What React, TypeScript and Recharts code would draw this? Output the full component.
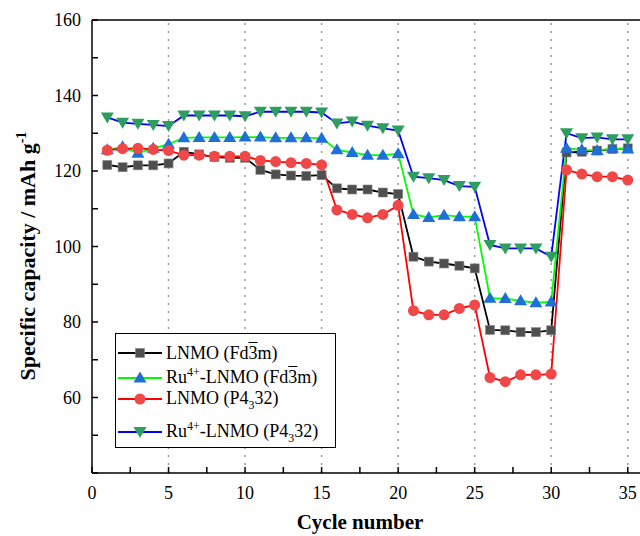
import React from "react"
import { LineChart, Line, XAxis, YAxis, ReferenceLine } from "recharts"

const cycles = [1, 2, 3, 4, 5, 6, 7, 8, 9, 10, 11, 12, 13, 14, 15, 16, 17, 18, 19, 20, 21, 22, 23, 24, 25, 26, 27, 28, 29, 30, 31, 32, 33, 34, 35]

// LNMO (Fd-3m), squares
const lnmoFd = [121.6, 121.0, 121.5, 121.5, 122.0, 125.1, 124.4, 123.7, 123.5, 123.5, 120.3, 119.1, 118.8, 118.7, 118.9, 115.4, 115.1, 115.1, 114.3, 113.9, 97.3, 96.0, 95.5, 94.9, 94.2, 77.9, 77.8, 77.3, 77.3, 77.8, 124.9, 125.1, 125.4, 125.8, 126.0]
// Ru4+-LNMO (Fd-3m), up triangles
const ruFd = [125.6, 126.4, 124.7, 126.0, 127.1, 128.8, 128.9, 128.9, 128.9, 129.0, 129.0, 128.8, 128.8, 128.8, 128.7, 125.6, 124.9, 124.2, 124.2, 124.6, 108.5, 107.7, 108.3, 107.9, 107.9, 86.3, 86.2, 85.6, 85.1, 85.3, 126.0, 125.6, 125.4, 126.0, 125.8]
// LNMO (P4332), circles
const lnmoP = [125.5, 125.9, 126.0, 125.7, 125.4, 124.2, 124.2, 123.9, 123.9, 123.9, 122.8, 122.5, 122.2, 122.0, 121.6, 109.7, 108.5, 107.6, 108.5, 110.9, 83.0, 81.9, 81.9, 83.6, 84.5, 65.3, 64.2, 66.0, 66.0, 66.2, 120.3, 119.2, 118.5, 118.5, 117.6]
// Ru4+-LNMO (P4332), down triangles
const ruP = [134.2, 132.8, 132.5, 132.2, 131.9, 134.7, 134.7, 134.7, 134.7, 134.5, 135.7, 135.7, 135.7, 135.7, 135.5, 132.6, 133.1, 132.0, 131.3, 130.7, 118.5, 118.1, 117.6, 116.0, 115.8, 100.4, 99.5, 99.5, 99.5, 97.3, 130.0, 128.7, 128.9, 128.4, 128.4]

const xTicks = [0, 2.5, 5, 7.5, 10, 12.5, 15, 17.5, 20, 22.5, 25, 27.5, 30, 32.5, 35]
const xLabels = [0, 5, 10, 15, 20, 25, 30, 35]
const yTicks = [40, 50, 60, 70, 80, 90, 100, 110, 120, 130, 140, 150, 160]
const yLabels = [60, 80, 100, 120, 140, 160]
const rateSteps = [5, 10, 15, 20, 25, 30, 35]

const data = cycles.map((c, i) => ({
  cycle: c,
  lnmoFd: lnmoFd[i],
  ruFd: ruFd[i],
  lnmoP: lnmoP[i],
  ruP: ruP[i],
}))

const FONT = "'Liberation Serif', 'Times New Roman', Times, 'DejaVu Serif', serif"

function Marker({ cx, cy, shape, fill }: { cx: number; cy: number; shape: string; fill: string }) {
  if (cx == null || cy == null) return null
  if (shape === "square") return <rect x={cx - 4.5} y={cy - 4.5} width={9} height={9} fill={fill} stroke="#888" strokeWidth={0.6} />
  if (shape === "circle") return <circle cx={cx} cy={cy} r={5.5} fill={fill} />
  if (shape === "up") return <polygon points={`${cx},${cy - 6.5} ${cx + 6.5},${cy + 4.5} ${cx - 6.5},${cy + 4.5}`} fill={fill} />
  return <polygon points={`${cx - 6.5},${cy - 5} ${cx + 6.5},${cy - 5} ${cx},${cy + 6}`} fill={fill} />
}

const series = [
  { key: "lnmoFd", stroke: "#000000", fill: "#4f4f4f", shape: "square" },
  { key: "ruFd", stroke: "#00ff00", fill: "#1f6fd8", shape: "up" },
  { key: "lnmoP", stroke: "#ff0000", fill: "#f04848", shape: "circle" },
  { key: "ruP", stroke: "#0000ff", fill: "#2e9e60", shape: "down" },
]

const XTick = (props: any) => {
  const { x, y, payload } = props
  const v = payload.value
  return (
    <g>
      <line x1={x} y1={y} x2={x} y2={y - 6} stroke="#000" strokeWidth={1.5} />
      {xLabels.includes(v) && (
        <text x={x} y={y + 26} textAnchor="middle" style={{ fontFamily: FONT }} fontSize={18} fill="#000">
          {v}
        </text>
      )}
    </g>
  )
}

const YTick = (props: any) => {
  const { x, y, payload } = props
  const v = payload.value
  return (
    <g>
      <line x1={x} y1={y} x2={x + 6} y2={y} stroke="#000" strokeWidth={1.5} />
      {yLabels.includes(v) && (
        <text x={x - 11} y={y + 6} textAnchor="end" style={{ fontFamily: FONT }} fontSize={18} fill="#000">
          {v}
        </text>
      )}
    </g>
  )
}

const XTitle = () => (
  <text x={360} y={529} textAnchor="middle" style={{ fontFamily: FONT }} fontSize={21} fontWeight="bold" fill="#000">
    Cycle number
  </text>
)

const YTitle = () => (
  <text x={35} y={256} transform="rotate(-90, 35, 256)" textAnchor="middle" style={{ fontFamily: FONT }} fontSize={22} fontWeight="bold" fill="#000">
    Specific capacity / mAh g
    <tspan fontSize={14} dy={-9}>-1</tspan>
  </text>
)

const supStyle: React.CSSProperties = { fontSize: 12, position: "relative", top: -7 }
const subStyle: React.CSSProperties = { fontSize: 12, position: "relative", top: 5 }
const bar: React.CSSProperties = { textDecoration: "overline" }

const legendRows = [
  { idx: 0, top: 353, label: <>LNMO (Fd<span style={bar}>3</span>m)</> },
  { idx: 1, top: 378, label: <>Ru<span style={supStyle}>4+</span>-LNMO (Fd<span style={bar}>3</span>m)</> },
  { idx: 2, top: 399, label: <>LNMO (P4<span style={subStyle}>3</span>32)</> },
  { idx: 3, top: 432, label: <>Ru<span style={supStyle}>4+</span>-LNMO (P4<span style={subStyle}>3</span>32)</> },
]

function LegendBox() {
  return (
    <div
      style={{
        position: "absolute",
        left: 115,
        top: 333,
        width: 219,
        height: 113,
        border: "1.5px solid #000",
        background: "#fff",
        fontFamily: FONT,
        fontSize: 18,
        color: "#000",
      }}
    >
      {legendRows.map((r) => {
        const s = series[r.idx]
        return (
          <div key={s.key} style={{ position: "absolute", left: 0, top: r.top - 333 - 13, height: 24, display: "flex", alignItems: "center", whiteSpace: "nowrap" }}>
            <svg width={50} height={24} style={{ flex: "none" }}>
              <line x1={2} y1={12} x2={46} y2={12} stroke={s.stroke} strokeWidth={2} />
              <Marker cx={24} cy={12} shape={s.shape} fill={s.fill} />
            </svg>
            <span style={{ lineHeight: "24px" }}>{r.label}</span>
          </div>
        )
      })}
    </div>
  )
}

export default function App() {
  return (
    <div style={{ position: "absolute", left: 0, top: 0, width: 640, height: 536, background: "#fff", fontFamily: FONT }}>
      <LineChart width={640} height={536} data={data} margin={{ top: 20, right: 0, bottom: 0, left: 0 }}>
        <XAxis
          dataKey="cycle"
          type="number"
          domain={[0, 35.8]}
          ticks={xTicks}
          interval={0}
          allowDataOverflow
          height={63}
          tickSize={0}
          tickMargin={0}
          tickLine={false}
          tick={XTick}
          axisLine={{ stroke: "#000", strokeWidth: 1.5 }}
          label={{ content: XTitle }}
        />
        <YAxis
          type="number"
          domain={[40, 160]}
          ticks={yTicks}
          interval={0}
          allowDataOverflow
          width={92}
          tickSize={0}
          tickMargin={0}
          tickLine={false}
          tick={YTick}
          axisLine={{ stroke: "#000", strokeWidth: 1.5 }}
          label={{ content: YTitle }}
        />
        {rateSteps.map((v) => (
          <ReferenceLine key={v} x={v} stroke="#999" strokeWidth={1.5} strokeDasharray="2 6" />
        ))}
        <ReferenceLine y={160} stroke="#000" strokeWidth={1.5} />
        {series.map((s) => (
          <Line
            key={s.key}
            dataKey={s.key}
            type="linear"
            stroke={s.stroke}
            strokeWidth={1.8}
            isAnimationActive={false}
            dot={(p: any) => <Marker key={`${s.key}-${p.index}`} cx={p.cx} cy={p.cy} shape={s.shape} fill={s.fill} />}
            activeDot={false}
          />
        ))}
      </LineChart>
      <LegendBox />
    </div>
  )
}
